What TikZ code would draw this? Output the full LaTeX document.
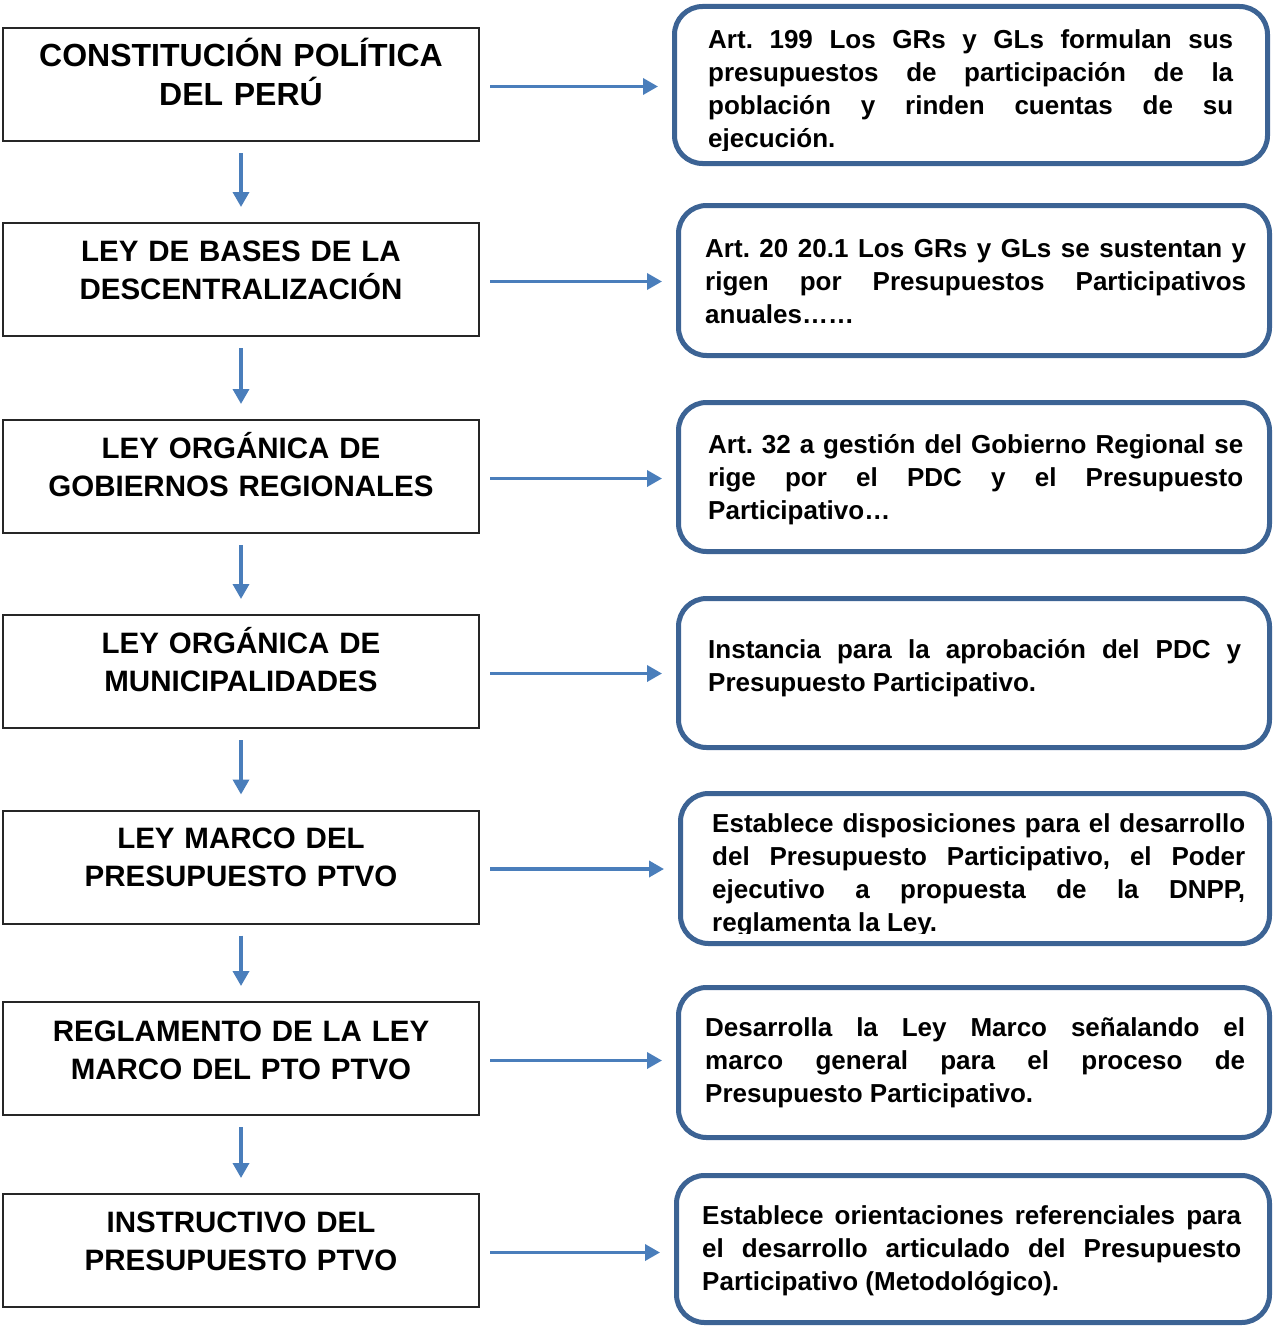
\documentclass[tikz,border=0pt]{standalone}
\usepackage{fontspec}
\setmainfont{Liberation Sans}
\usetikzlibrary{arrows.meta}
\definecolor{flechaazul}{HTML}{4A7EBB}
\definecolor{bordeazul}{HTML}{3C6394}
\newcommand\notafont{\fontsize{26}{33}\selectfont\bfseries\frenchspacing\spaceskip=0.278em plus 20em minus 0.05em\relax}
\begin{document}
\begin{tikzpicture}[x=1pt, y=-1pt,
    ley/.style={draw=black!85, line width=2pt, minimum width=476pt, minimum height=113pt, inner sep=0pt},
    leytxt/.style={font=\fontsize{29.5}{38}\selectfont\bfseries, text width=470pt, align=center, anchor=base, inner sep=0pt},
    nota/.style={draw=bordeazul, line width=5pt, rounded corners=28pt, inner sep=0pt},
    notatxt/.style={font=\notafont, align=justify, anchor=base west, inner sep=0pt},
    flecha/.style={draw=flechaazul, line width=3.5pt, -{Triangle[length=15pt, width=16pt]}}]

    \useasboundingbox (0,0) rectangle (1274,1327);

    % normas (izquierda)
    \node[ley] (l1) at (241,84.5) {};
    \node[ley] (l2) at (241,279.5) {};
    \node[ley] (l3) at (241,476.5) {};
    \node[ley] (l4) at (241,671.5) {};
    \node[ley] (l5) at (241,867) {};
    \node[ley] (l6) at (241,1058.5) {};
    \node[ley] (l7) at (241,1250.5) {};

    \node[leytxt, font=\fontsize{32}{38.5}\selectfont\bfseries] (l1t) at (241,67) {CONSTITUCIÓN POLÍTICA\\DEL PERÚ};
    \node[leytxt] (l2t) at (241,261.5) {LEY DE BASES DE LA\\DESCENTRALIZACIÓN};
    \node[leytxt] (l3t) at (241,458) {LEY ORGÁNICA DE\\GOBIERNOS REGIONALES};
    \node[leytxt] (l4t) at (241,653) {LEY ORGÁNICA DE\\MUNICIPALIDADES};
    \node[leytxt] (l5t) at (241,848.5) {LEY MARCO DEL\\PRESUPUESTO PTVO};
    \node[leytxt] (l6t) at (241,1041) {REGLAMENTO DE LA LEY\\MARCO DEL PTO PTVO};
    \node[leytxt] (l7t) at (241,1232) {INSTRUCTIVO DEL\\PRESUPUESTO PTVO};

    % notas (derecha)
    \node[nota, minimum width=593pt, minimum height=157pt] (r1) at (971,85) {};
    \node[nota, minimum width=591pt, minimum height=150pt] (r2) at (974,280.5) {};
    \node[nota, minimum width=591pt, minimum height=149pt] (r3) at (974,477) {};
    \node[nota, minimum width=591pt, minimum height=149pt] (r4) at (974,673) {};
    \node[nota, minimum width=589pt, minimum height=150pt] (r5) at (975,868.5) {};
    \node[nota, minimum width=591pt, minimum height=150pt] (r6) at (974,1062.5) {};
    \node[nota, minimum width=593pt, minimum height=147pt] (r7) at (973,1249) {};

    \begin{scope}
        \clip (600,0) rectangle (1274,150);
        \node[notatxt, text width=525pt] (r1t) at (708,48.5) {Art. 199 Los GRs y GLs formulan sus\linebreak
            presupuestos de participación de la\linebreak población y rinden cuentas de su\linebreak ejecución.};
    \end{scope}
    \node[notatxt, text width=541pt] (r2t) at (705,257) {Art. 20 20.1 Los GRs y GLs se sustentan y\linebreak
        rigen por Presupuestos Participativos\linebreak anuales……};
    \node[notatxt, text width=535pt] (r3t) at (708,453) {Art. 32 a gestión del Gobierno Regional se\linebreak
        rige por el PDC y el Presupuesto\linebreak Participativo…};
    \node[notatxt, text width=533pt] (r4t) at (708,658) {Instancia para la aprobación del PDC y\linebreak
        Presupuesto Participativo.};
    \begin{scope}
        \clip (600,780) rectangle (1274,933);
        \node[notatxt, text width=533pt] (r5t) at (712,832) {Establece disposiciones para el desarrollo\linebreak
            del Presupuesto Participativo, el Poder\linebreak ejecutivo a propuesta de la DNPP,\linebreak reglamenta la Ley.};
    \end{scope}
    \node[notatxt, text width=540pt] (r6t) at (705,1036) {Desarrolla la Ley Marco señalando el\linebreak
        marco general para el proceso de\linebreak Presupuesto Participativo.};
    \node[notatxt, text width=539pt] (r7t) at (702,1224) {Establece orientaciones referenciales para\linebreak
        el desarrollo articulado del Presupuesto\linebreak Participativo (Metodológico).};

    % flechas
    \draw[flecha, shorten <=11pt, shorten >=15pt] (l1) -- (l2);
    \draw[flecha, shorten <=11pt, shorten >=15pt] (l2) -- (l3);
    \draw[flecha, shorten <=11pt, shorten >=15pt] (l3) -- (l4);
    \draw[flecha, shorten <=11pt, shorten >=15pt] (l4) -- (l5);
    \draw[flecha, shorten <=11pt, shorten >=15pt] (l5) -- (l6);
    \draw[flecha, shorten <=11pt, shorten >=15pt] (l6) -- (l7);

    \draw[flecha, shorten <=10pt, shorten >=14pt] ([yshift=-2pt]l1.east) -- ([yshift=-2pt]l1.east -| r1.west);
    \draw[flecha, shorten <=10pt, shorten >=14pt] ([yshift=-2pt]l2.east) -- ([yshift=-2pt]l2.east -| r2.west);
    \draw[flecha, shorten <=10pt, shorten >=14pt] ([yshift=-2pt]l3.east) -- ([yshift=-2pt]l3.east -| r3.west);
    \draw[flecha, shorten <=10pt, shorten >=14pt] ([yshift=-2pt]l4.east) -- ([yshift=-2pt]l4.east -| r4.west);
    \draw[flecha, shorten <=10pt, shorten >=14pt] ([yshift=-2pt]l5.east) -- ([yshift=-2pt]l5.east -| r5.west);
    \draw[flecha, shorten <=10pt, shorten >=14pt] ([yshift=-2pt]l6.east) -- ([yshift=-2pt]l6.east -| r6.west);
    \draw[flecha, shorten <=10pt, shorten >=14pt] ([yshift=-2pt]l7.east) -- ([yshift=-2pt]l7.east -| r7.west);

\end{tikzpicture}
\end{document}
